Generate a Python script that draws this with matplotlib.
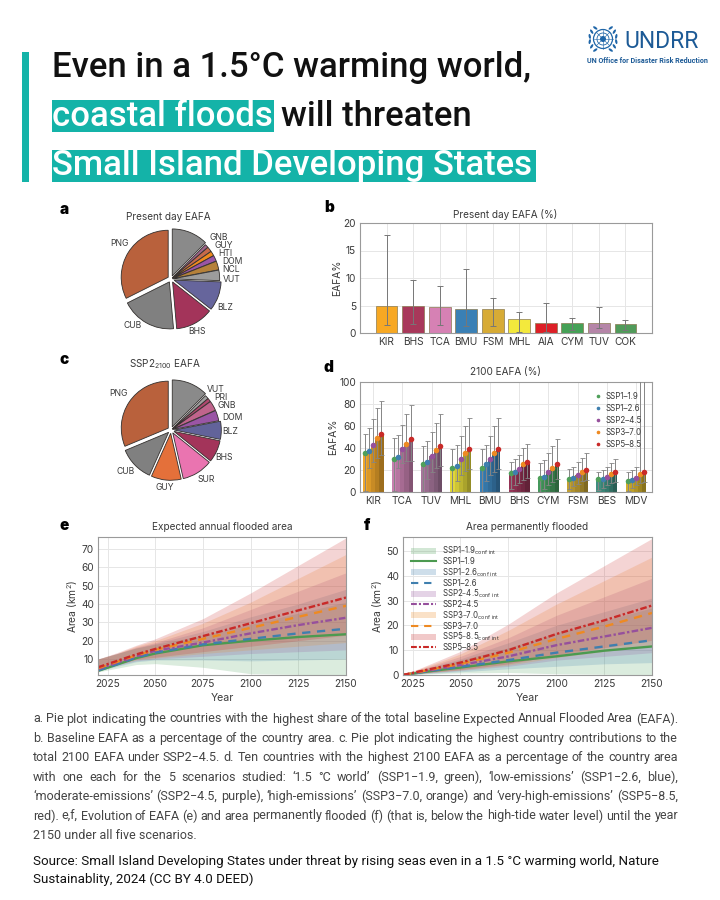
import matplotlib
matplotlib.use("Agg")
import matplotlib.pyplot as plt
from matplotlib.patches import Rectangle, Circle, Ellipse, Patch
from matplotlib.lines import Line2D
import numpy as np

W, H = 720, 900
TEAL = "#14b3a8"
INK = "#3a3a3a"
GRID = "#e6e6e6"
SPINE = "#9a9a9a"
CHART_FONT = "Inter"

plt.rcParams["font.family"] = ["Roboto", "DejaVu Sans"]
plt.rcParams["mathtext.default"] = "regular"

# pie a
pie_a_values = [12.5, 1.2, 1.7, 1.6, 2.0, 3.0, 3.6, 10.0, 13.0, 19.0, 32.4]
pie_a_colors = ["#8a8a8a", "#a0658c", "#c86a4a", "#f08a1e", "#9a55a5", "#b5813a",
                "#9c9c9c", "#66659c", "#a3345a", "#808080", "#b9613c"]
pie_a_labels = ["GNB", "GUY", "HTI", "DOM", "NCL", "VUT", "BLZ", "BHS", "CUB", "PNG"]
# pie c
pie_c_values = [12.5, 1.3, 1.2, 3.4, 3.6, 6.2, 7.6, 10.6, 10.3, 12.0, 31.3]
pie_c_colors = ["#8a8a8a", "#a0a0a0", "#b0476e", "#c0648c", "#9a55a5", "#62639a",
                "#a3345a", "#ea74b0", "#e4703a", "#808080", "#b9613c"]
pie_c_labels = ["VUT", "PRI", "GNB", "DOM", "BLZ", "BHS", "SUR", "GUY", "CUB", "PNG"]

# bar panel b
b_names = ["KIR", "BHS", "TCA", "BMU", "FSM", "MHL", "AIA", "CYM", "TUV", "COK"]
b_values = [5.0, 4.9, 4.7, 4.4, 4.3, 2.5, 1.9, 1.9, 1.8, 1.7]
b_high = [17.8, 9.6, 8.5, 11.6, 6.4, 3.8, 5.5, 2.8, 4.8, 2.4]
b_low = [1.4, 1.6, 1.4, 1.2, 1.3, 0.1, 0.1, 0.6, 0.9, 0.6]
b_colors = ["#f7a823", "#a8385a", "#d681b4", "#3a80b5", "#d7ab35",
            "#f3e93c", "#dd1f26", "#45a156", "#b585a8", "#509b5a"]

# bar panel d
scenarios = ["SSP1–1.9", "SSP1–2.6", "SSP2–4.5", "SSP3–7.0", "SSP5–8.5"]
scenario_colors = ["#4fa05a", "#3f7fae", "#96509c", "#ee8a22", "#c92a28"]
d_names = ["KIR", "TCA", "TUV", "MHL", "BMU", "BHS", "CYM", "FSM", "BES", "MDV"]
d_colors = ["#eea62c", "#c67fae", "#a5759a", "#e0d63a", "#3a80b5",
            "#953355", "#45985c", "#c2a032", "#3f8f80", "#d0ae2c"]
d_values = [[35, 37, 43, 49, 53], [30, 32, 39, 44, 48], [25, 27, 33, 38, 42],
            [22, 24, 30, 35, 39], [22, 25, 30, 35, 39], [17, 18, 21, 25, 27],
            [13, 14, 18, 22, 25], [12, 13, 15, 18, 20], [12, 12, 14, 16, 18],
            [10, 11, 13, 16, 18]]
d_high = [[53, 58, 66, 76, 83], [49, 52, 61, 71, 79], [42, 46, 55, 63, 71],
          [39, 43, 51, 60, 67], [39, 43, 51, 60, 67], [27, 30, 34, 40, 44],
          [26, 29, 35, 42, 48], [21, 23, 27, 31, 35], [18, 20, 23, 26, 30],
          [18, 20, 23, 140, 140]]
d_low = [[1, 22, 27, 31, 34], [1, 22, 26, 28, 28], [0, 12, 18, 22, 24],
         [0, 10, 15, 19, 21], [0, 10, 15, 18, 21], [3, 6, 8, 11, 13],
         [0, 3, 6, 9, 12], [3, 5, 7, 10, 11], [2, 4, 6, 8, 9],
         [1, 4, 6, 8, 9]]

# line panels
years = [2020, 2030, 2040, 2050, 2075, 2100, 2125, 2150]
e_mid = [[3.5, 7.0, 10.5, 13.0, 17.5, 20.0, 22.0, 23.5],
         [3.8, 7.2, 10.8, 13.5, 18.0, 21.0, 24.0, 26.5],
         [4.5, 8.0, 11.5, 14.5, 19.0, 24.0, 28.5, 32.5],
         [5.0, 8.5, 12.0, 15.0, 21.0, 27.0, 33.0, 39.0],
         [5.5, 9.0, 12.5, 15.5, 22.5, 29.5, 36.5, 43.5]]
e_up = [[10, 13, 16, 18, 23, 29, 35, 41],
        [10, 13, 16, 18.5, 25, 33, 40, 48],
        [10, 13, 16.5, 19, 27, 37, 47, 57],
        [10, 13, 17, 20, 29.5, 41, 54, 67],
        [10, 13.5, 17.5, 21, 32, 46, 61, 76]]
e_lo = [[3, 5, 7, 7.5, 5.5, 2, 1.6, 1.3],
        [3.5, 6, 8.5, 9.5, 9.5, 9, 9.5, 10],
        [3.5, 6.5, 9, 10, 11.5, 13, 14, 15],
        [4, 7, 9.5, 10.5, 13, 15, 17, 19],
        [4, 7, 10, 11, 14, 17, 20, 23]]
f_mid = [[0, 1.1, 2.1, 3.0, 5.5, 7.5, 9.8, 11.5],
         [0, 1.2, 2.3, 3.3, 6.0, 9.0, 11.5, 14.0],
         [0, 1.4, 2.7, 4.0, 7.5, 12.0, 15.5, 19.0],
         [0, 1.5, 3.0, 4.5, 9.0, 14.5, 19.5, 25.0],
         [0, 1.7, 3.3, 5.0, 10.0, 16.5, 22.0, 28.0]]
f_up = [[0, 2, 4, 6, 11, 17, 22, 27],
        [0, 2.2, 4.4, 6.5, 13, 20, 25.5, 31],
        [0, 2.5, 5, 7.5, 15, 24, 31.5, 39],
        [0, 2.8, 5.6, 8.5, 18, 28.5, 38, 47.5],
        [0, 3.1, 6.3, 9.5, 20.5, 33, 44, 55]]
f_lo = [[0, 0.3, 0.6, 0.8, 1.0, 0.5, 0.3, 0.1],
        [0, 0.5, 0.9, 1.3, 2.5, 3.5, 4.5, 5.0],
        [0, 0.6, 1.2, 1.8, 3.5, 6.0, 7.5, 9.0],
        [0, 0.7, 1.4, 2.0, 4.0, 7.0, 9.5, 12.0],
        [0, 0.8, 1.5, 2.2, 4.5, 8.0, 11.0, 14.0]]
year_ticks = [2025, 2050, 2075, 2100, 2125, 2150]
line_styles = ["-", (0, (3.5, 2.8)), (0, (2.8, 1, 1, 1)), (0, (3.5, 2.8)), (0, (2.8, 1, 1, 1))]

caption_lines = [
    "a. Pie plot indicating the countries with the highest share of the total baseline Expected Annual Flooded Area (EAFA).",
    "b. Baseline EAFA as a percentage of the country area. c. Pie plot indicating the highest country contributions to the",
    "total 2100 EAFA under SSP2−4.5. d. Ten countries with the highest 2100 EAFA as a percentage of the country area",
    "with one each for the 5 scenarios studied: ‘1.5 °C world’ (SSP1−1.9, green), ‘low-emissions’ (SSP1−2.6, blue),",
    "‘moderate-emissions’ (SSP2−4.5, purple), ‘high-emissions’ (SSP3−7.0, orange) and ‘very-high-emissions’ (SSP5−8.5,",
    "red). e,f, Evolution of EAFA (e) and area permanently flooded (f) (that is, below the high-tide water level) until the year",
    "2150 under all five scenarios.",
]
source_lines = [
    "Source: Small Island Developing States under threat by rising seas even in a 1.5 °C warming world, Nature",
    "Sustainablity, 2024 (CC BY 4.0 DEED)",
]


def px_axes(fig, left, top, right, bottom):
    # axes placed by pixel box, y measured from the top of the page
    return fig.add_axes([left / W, 1 - bottom / H, (right - left) / W, (bottom - top) / H])


def style_axes(ax):
    for s in ax.spines.values():
        s.set_color(SPINE)
        s.set_linewidth(0.8)
    ax.grid(True, color=GRID, linewidth=0.7)
    ax.set_axisbelow(True)
    ax.tick_params(length=0, labelsize=7.3, labelcolor=INK, pad=3)
    for t in ax.get_xticklabels() + ax.get_yticklabels():
        t.set_family(CHART_FONT)


def draw_pie(fig, cx, cy, values, colors):
    ax = px_axes(fig, cx - 60, cy - 60, cx + 60, cy + 60)
    explode = [0.06 if v > 5 else 0.03 for v in values]
    ax.pie(values, colors=colors, startangle=90, counterclock=False, radius=47 / 55,
           explode=explode, wedgeprops={"edgecolor": "#33302e", "linewidth": 0.6})
    ax.set_xlim(-60 / 55, 60 / 55)
    ax.set_ylim(-60 / 55, 60 / 55)
    return ax


def draw_lines(ax, mid, up, lo):
    for i in range(5):
        ax.fill_between(years, lo[i], up[i], color=scenario_colors[i], alpha=0.2, linewidth=0)
    for i in range(5):
        ax.plot(years, mid[i], color=scenario_colors[i] if i else "#4c9a50",
                linestyle=line_styles[i], linewidth=1.7)
    ax.set_xticks(year_ticks)
    ax.set_xlim(2020, 2150)
    ax.set_xlabel("Year", fontsize=7.6, color=INK, family=CHART_FONT, labelpad=3)
    ax.set_ylabel("Area (km$^2$)", fontsize=7.4, color=INK, family=CHART_FONT, labelpad=1)
    style_axes(ax)


fig = plt.figure(figsize=(W / 100, H / 100), dpi=100, facecolor="white")
page = fig.add_axes([0, 0, 1, 1])
page.set_xlim(0, W)
page.set_ylim(H, 0)
page.axis("off")

# headline
page.add_patch(Rectangle((22, 52), 7, 130, color=TEAL, linewidth=0))
page.add_patch(Rectangle((52, 100), 222, 32, color=TEAL, linewidth=0))
page.add_patch(Rectangle((52, 150), 484, 32, color=TEAL, linewidth=0))
head = {"fontsize": 25, "fontweight": "medium", "va": "center"}
page.text(52, 67, "Even in a 1.5°C warming world,", color="#111111", **head)
page.text(52, 116, "coastal floods", color="white", **head)
page.text(281, 116, "will threaten", color="#111111", **head)
page.text(52, 166, "Small Island Developing States", color="white", **head)

# emblem and agency name
LOGO = "#1f66a8"
page.add_patch(Circle((603, 39), 9.5, fill=False, edgecolor=LOGO, linewidth=0.9))
page.add_patch(Circle((603, 39), 6, fill=False, edgecolor=LOGO, linewidth=0.6))
page.add_patch(Circle((603, 39), 3, color=LOGO, linewidth=0))
for a in np.radians(np.arange(0, 180, 45)):
    page.plot([603 - 9.5 * np.cos(a), 603 + 9.5 * np.cos(a)],
              [39 - 9.5 * np.sin(a), 39 + 9.5 * np.sin(a)], color=LOGO, linewidth=0.4)
for a in np.radians(np.arange(35, 165, 22)):
    for side in (-1, 1):
        page.add_patch(Ellipse((603 + side * 13.5 * np.cos(a - np.pi / 2), 39 - 13.5 * np.sin(a - np.pi / 2)),
                               5, 2.2, angle=side * np.degrees(a), color=LOGO, linewidth=0))
page.text(624, 42, "UNDRR", color="#1c5a96", fontsize=16.5, va="center")
page.text(587, 61, "UN Office for Disaster Risk Reduction", color="#1c5a96", fontsize=5.1,
          va="center", fontweight="bold")

# panel letters
for letter, x, y in [("a", 60, 209), ("b", 324, 208), ("c", 60, 360),
                     ("d", 324, 367), ("e", 60, 526), ("f", 364, 525)]:
    page.text(x, y, letter, fontsize=11, fontweight="black", color="black",
              family=CHART_FONT, va="center")

title = {"fontsize": 7.2, "color": INK, "family": CHART_FONT, "ha": "center", "va": "center"}
page.text(168, 217, "Present day EAFA", **title)
page.text(165, 364, "SSP2$_{2100}$ EAFA", **title)
page.text(505, 214, "Present day EAFA (%)", **title)
page.text(505, 372, "2100 EAFA (%)", **title)
page.text(222, 527, "Expected annual flooded area", **title)
page.text(527, 527, "Area permanently flooded", **title)

# pies, labels are set by hand because the thin slices would collide
draw_pie(fig, 171, 279, pie_a_values, pie_a_colors)
draw_pie(fig, 171, 430, pie_c_values, pie_c_colors)
pie_label = {"fontsize": 6.2, "color": INK, "family": CHART_FONT, "ha": "center", "va": "center"}
for name, x, y in zip(pie_a_labels,
                      [219, 224, 225, 232, 231, 232, 225, 197, 133, 119],
                      [238, 246, 253.5, 261.5, 269.5, 280, 307, 331, 326, 244]):
    page.text(x, y, name, **pie_label)
for name, x, y in zip(pie_c_labels,
                      [216, 221, 227, 232, 230, 224, 206, 165, 126, 118],
                      [389, 397.5, 405, 417, 432, 458, 479, 487, 471, 394]):
    page.text(x, y, name, **pie_label)

# present-day bars
ax = px_axes(fig, 360, 223, 652, 333)
ax.bar(range(10), b_values, width=0.82, color=b_colors, edgecolor="#8a7a50", linewidth=0.5, zorder=2)
ax.errorbar(range(10), b_values,
            yerr=[np.array(b_values) - np.array(b_low), np.array(b_high) - np.array(b_values)],
            fmt="none", ecolor="#777777", elinewidth=0.7, capsize=2, capthick=0.7, zorder=3)
ax.set_xlim(-1, 10)
ax.set_ylim(0, 20)
ax.set_xticks(range(10), b_names)
ax.set_yticks([0, 5, 10, 15, 20])
ax.set_ylabel("EAFA%", fontsize=7.4, color=INK, family=CHART_FONT, labelpad=1)
style_axes(ax)

# 2100 bars, one cluster per country
ax = px_axes(fig, 360, 382, 652, 492)
shade = [1.0, 0.92, 0.84, 0.76, 0.66]
bw = 0.142
for c in range(10):
    base = np.array(matplotlib.colors.to_rgb(d_colors[c]))
    for s in range(5):
        x = c + (s - 2) * bw
        v = d_values[c][s]
        ax.bar(x, v, width=bw, color=base * shade[s], linewidth=0, zorder=2)
        ax.errorbar(x, v, yerr=[[v - d_low[c][s]], [d_high[c][s] - v]], fmt="none", ecolor="#858585",
                    elinewidth=0.7, capsize=1.8, capthick=0.6, zorder=3)
        ax.scatter(x, v, s=16, color=scenario_colors[s], zorder=4, linewidth=0)
ax.set_xlim(-0.45, 9.55)
ax.set_ylim(0, 100)
ax.set_xticks(range(10), d_names)
ax.set_yticks([0, 20, 40, 60, 80, 100])
ax.set_ylabel("EAFA%", fontsize=7.4, color=INK, family=CHART_FONT, labelpad=1)
style_axes(ax)
dots = [Line2D([], [], linestyle="none", marker="o", markersize=1.6, color=c) for c in scenario_colors]
ax.legend(dots, scenarios, loc="upper right", frameon=False, labelspacing=0.38,
          handletextpad=0.0, borderaxespad=0.3, bbox_to_anchor=(0.985, 0.96), labelcolor=INK,
          prop={"family": CHART_FONT, "size": 5.7})

# flooded area over time
ax = px_axes(fig, 98, 537, 346, 675)
draw_lines(ax, e_mid, e_up, e_lo)
ax.set_ylim(1.3, 76.5)
ax.set_yticks(range(10, 80, 10))
style_axes(ax)

ax = px_axes(fig, 403, 537, 652, 675)
draw_lines(ax, f_mid, f_up, f_lo)
ax.set_ylim(0, 55.6)
ax.set_yticks(range(0, 60, 10))
style_axes(ax)
handles, labels = [], []
for i in range(5):
    handles.append(Patch(color=scenario_colors[i], alpha=0.25, linewidth=0))
    labels.append(scenarios[i] + "$_{conf\\ int}$")
    handles.append(Line2D([], [], color=scenario_colors[i] if i else "#4c9a50",
                          linestyle=line_styles[i], linewidth=1.5))
    labels.append(scenarios[i])
ax.legend(handles, labels, loc="upper left", frameon=False, labelspacing=0.0, handlelength=3.2,
          handletextpad=0.8, borderaxespad=0.55, labelcolor=INK,
          prop={"family": CHART_FONT, "size": 5.7})


def justified(text_line, y, left, right, **kw):
    # word spacing stretched so the line fills left..right
    renderer = fig.canvas.get_renderer()
    words = text_line.split(" ")
    probes = [page.text(0, 0, w, **kw) for w in words]
    widths = [p.get_window_extent(renderer).width for p in probes]
    for p in probes:
        p.remove()
    gap = (right - left - sum(widths)) / (len(words) - 1)
    x = left
    for w, wd in zip(words, widths):
        page.text(x, y, w, va="center", **kw)
        x += wd + gap


cap = {"fontsize": 9.0, "color": "#444444"}
for i, line in enumerate(caption_lines[:-1]):
    justified(line, 719 + i * 19.4, 33, 678, **cap)
page.text(33, 719 + 6 * 19.4, caption_lines[-1], va="center", **cap)
for i, line in enumerate(source_lines):
    page.text(33, 861 + i * 18.5, line, fontsize=9.6, color="#111111", va="center")

fig.savefig("out.png", dpi=100)
